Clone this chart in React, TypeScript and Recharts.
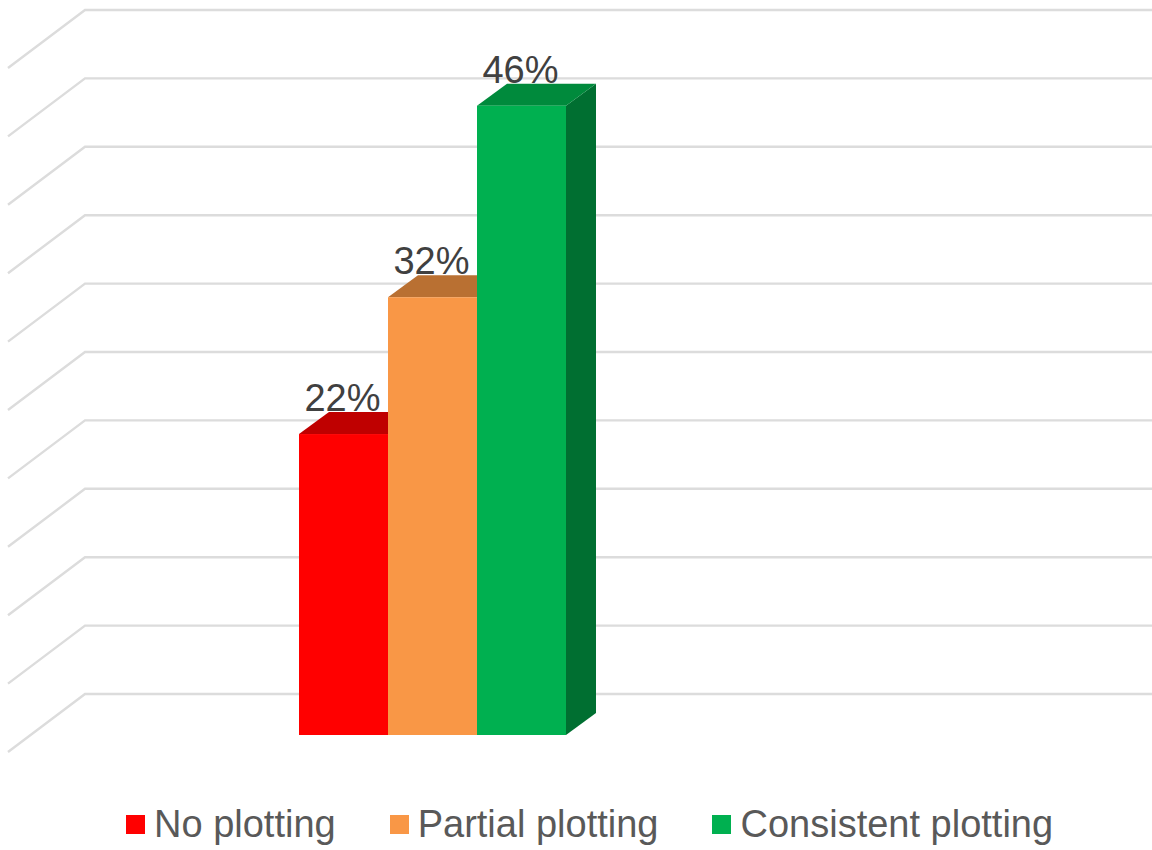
import { BarChart, Bar, XAxis, YAxis, CartesianGrid, Legend, LabelList } from 'recharts'

const seriesNames = ['No plotting', 'Partial plotting', 'Consistent plotting']
const seriesValues = [22, 32, 46]
const frontColors = ['#ff0000', '#f99746', '#00b050']
const capColors = ['#bf0000', '#b97032', '#008a3c']
const sideColors = ['#bf0000', '#b97032', '#006f31']
const yTicks = [0, 5, 10, 15, 20, 25, 30, 35, 40, 45, 50]

// one category, one key per series
const row: Record<string, string | number> = { name: 'Plotting' }
seriesNames.forEach((n, i) => { row[n] = seriesValues[i] })

const WIDTH = 1152
const HEIGHT = 850
// fake 3D offsets: wall lines run to the front edge, bars sit forward of the back wall
const FLOOR_DX = -77
const FLOOR_DY = 58
const BAR_FORWARD = 41
const DEPTH_X = 30
const DEPTH_Y = 22
const LABEL_DROP = 18

function Box3D(props: any) {
  const { x, y, width, height, index } = props
  const top = y + BAR_FORWARD
  const bottom = top + height
  const right = x + width
  return (
    <g>
      <polygon points={`${right},${top} ${right + DEPTH_X},${top - DEPTH_Y} ${right + DEPTH_X},${bottom - DEPTH_Y} ${right},${bottom}`} fill={sideColors[index]} />
      <polygon points={`${x},${top} ${x + DEPTH_X},${top - DEPTH_Y} ${right + DEPTH_X},${top - DEPTH_Y} ${right},${top}`} fill={capColors[index]} />
      <rect x={x} y={top} width={width} height={height} fill={frontColors[index]} />
    </g>
  )
}

function WallLine(props: any) {
  const { x1, y1, x2, y2 } = props
  return <path d={`M${x1 + FLOOR_DX},${y1 + FLOOR_DY} L${x1},${y1} L${x2},${y2}`} fill="none" stroke="#dcdcdc" strokeWidth={2.4} />
}

function ValueLabel(props: any) {
  const { x, y, width, value } = props
  return (
    <text x={x + width / 2 - 1} y={y + LABEL_DROP} textAnchor="middle" fontFamily="Liberation Sans" fontSize={38} fill="#404040">
      {value}%
    </text>
  )
}

function LegendRow({ payload }: any) {
  return (
    <div style={{ display: 'flex', fontFamily: 'Liberation Sans', fontSize: 38, color: '#595959', lineHeight: '44px' }}>
      {(payload || []).map((p: any) => (
        <div key={p.value} style={{ display: 'flex', alignItems: 'center', marginRight: 54 }}>
          <span style={{ width: 19, height: 19, background: p.color, marginRight: 9 }} />
          <span style={{ whiteSpace: 'nowrap' }}>{p.value}</span>
        </div>
      ))}
    </div>
  )
}

export default function App() {
  return (
    <div style={{ position: 'absolute', left: 0, top: 0, width: WIDTH, height: HEIGHT, background: '#fff', overflow: 'hidden' }}>
      <BarChart
        width={WIDTH}
        height={HEIGHT}
        data={[row]}
        barSize={89}
        barGap={0}
        margin={{ top: 10, right: 0, bottom: 112, left: 85 }}
      >
        <CartesianGrid vertical={false} horizontal={WallLine} horizontalValues={yTicks} />
        <XAxis dataKey="name" hide padding={{ left: 0, right: 372 }} />
        <YAxis hide domain={[0, 50]} ticks={yTicks} />
        {seriesNames.map((n, i) => (
          <Bar
            key={n}
            dataKey={n}
            name={n}
            fill={frontColors[i]}
            isAnimationActive={false}
            shape={(p: any) => <Box3D {...p} index={i} />}
          >
            <LabelList dataKey={n} content={ValueLabel} />
          </Bar>
        ))}
        <Legend
          layout="horizontal"
          align="left"
          verticalAlign="bottom"
          itemSorter={null}
          content={<LegendRow />}
          wrapperStyle={{ position: 'absolute', left: 126, top: 802, bottom: 'auto', width: 1020 }}
        />
      </BarChart>
    </div>
  )
}
